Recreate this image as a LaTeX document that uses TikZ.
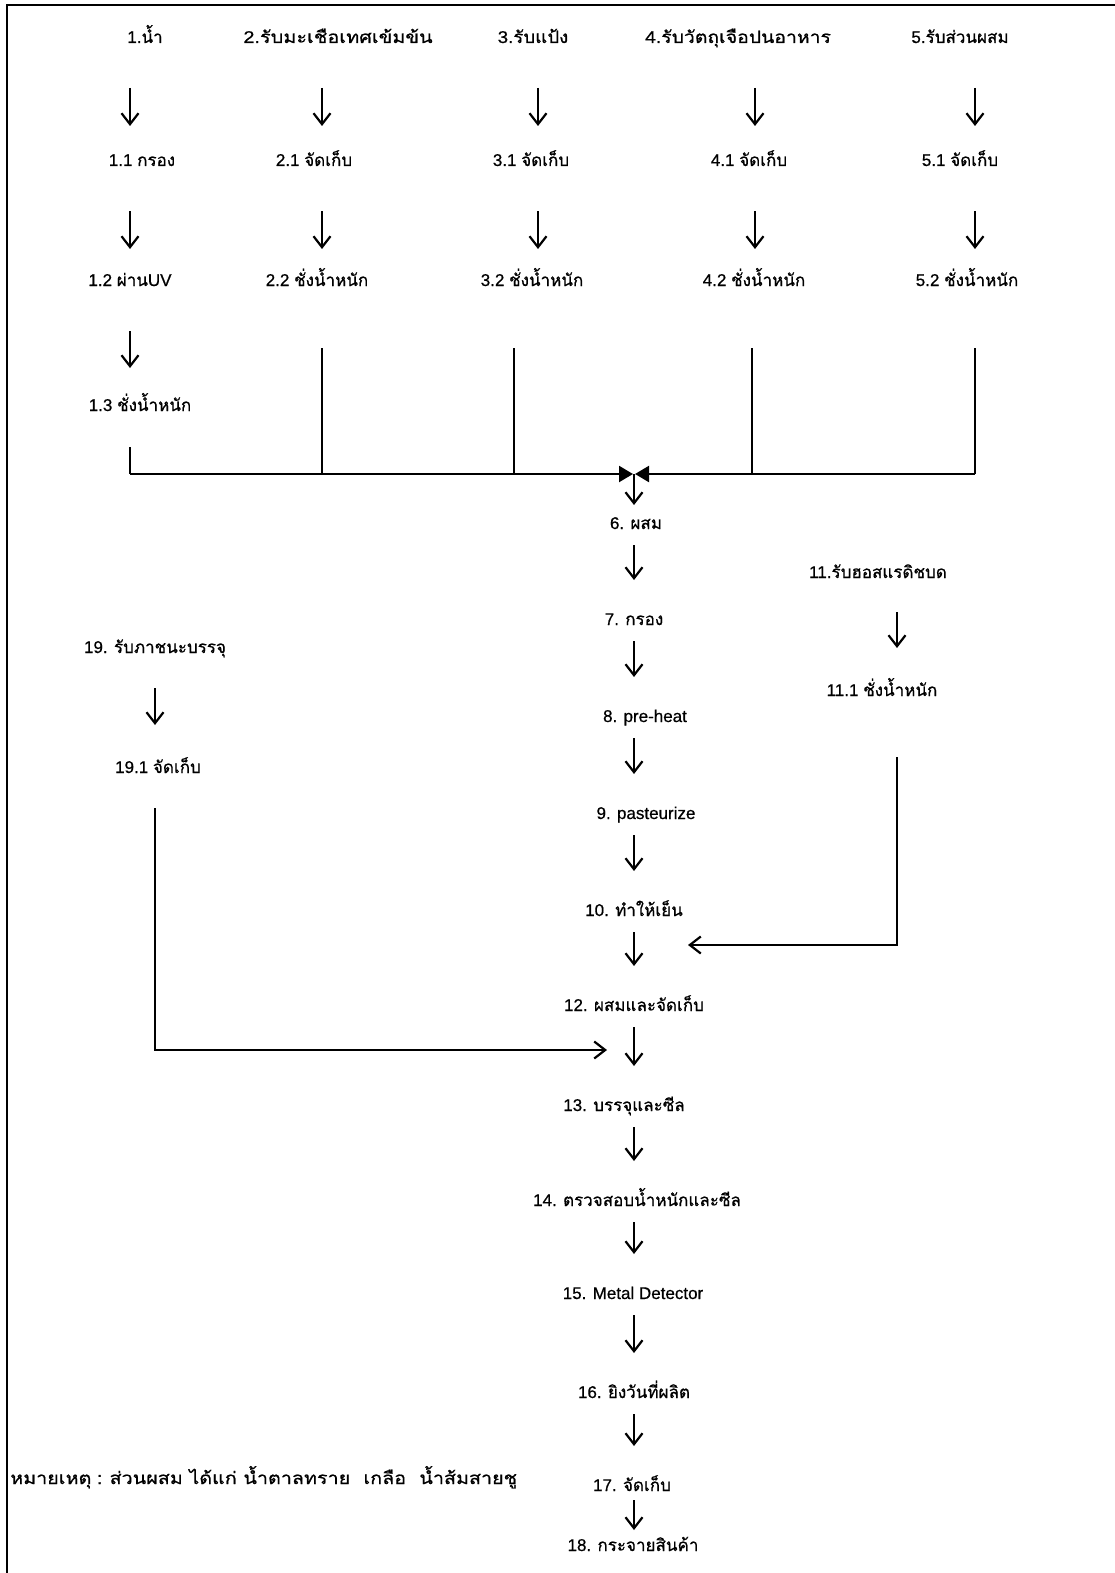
\documentclass[tikz,border=0pt]{standalone}
\usepackage{graphicx}
\usepackage{fontspec}
\setmainfont{Liberation Sans}[FakeBold=0.6]
\newfontfamily\thaifont[Script=Thai,FakeBold=0.7]{Loma}
\newcommand{\T}[1]{{\thaifont #1}}
\newcommand{\wide}[2]{\scalebox{#1}[1]{#2}}
\usetikzlibrary{arrows.meta}
\begin{document}
\begin{tikzpicture}[x=1pt,y=-1pt,
  lbl/.style={inner sep=0pt,anchor=base,font=\fontsize{17}{20}\selectfont},
  arr/.style={line width=2.2pt,-{Straight Barb[length=11pt,width=17pt,line width=2.2pt]}},
  line/.style={line width=2.2pt},
  tri/.style={line width=2.2pt,-{Triangle[length=14pt,width=16pt]}},
  vdown/.style={arr,shorten <=45pt,shorten >=40pt},
  fdown/.style={arr,shorten <=16pt,shorten >=45pt}]
\useasboundingbox (0,0) rectangle (1115,1573);
% frame (top and left edges)
\draw[line width=2.2pt] (7,1573) -- (7,5) -- (1115,5);
% column guides
\coordinate (x1) at (130,0);
\coordinate (x2) at (322,0);
\coordinate (x3) at (538,0);
\coordinate (x4) at (755,0);
\coordinate (x5) at (975,0);
\coordinate (xm) at (634,0);
% header row
\node[lbl] (h1) at (145,43) {1.\T{น้ำ}};
\node[lbl] (h2) at (338,43) {\wide{1.17}{2.\T{รับมะเชือเทศเข้มข้น}}};
\node[lbl] (h3) at (533,43) {\wide{1.1}{3.\T{รับแป้ง}}};
\node[lbl] (h4) at (738,43) {\wide{1.14}{4.\T{รับวัตถุเจือปนอาหาร}}};
\node[lbl] (h5) at (960,43) {5.\T{รับส่วนผสม}};
% row 2
\node[lbl] (a1) at (142,166) {1.1 \T{กรอง}};
\node[lbl] (a2) at (314,166) {2.1 \T{จัดเก็บ}};
\node[lbl] (a3) at (531,166) {3.1 \T{จัดเก็บ}};
\node[lbl] (a4) at (749,166) {4.1 \T{จัดเก็บ}};
\node[lbl] (a5) at (960,166) {5.1 \T{จัดเก็บ}};
% row 3
\node[lbl] (b1) at (130,286) {1.2 \T{ผ่าน}UV};
\node[lbl] (b2) at (317,286) {2.2 \T{ชั่งน้ำหนัก}};
\node[lbl] (b3) at (532,286) {3.2 \T{ชั่งน้ำหนัก}};
\node[lbl] (b4) at (754,286) {4.2 \T{ชั่งน้ำหนัก}};
\node[lbl] (b5) at (967,286) {5.2 \T{ชั่งน้ำหนัก}};
\node[lbl] (c1) at (140,411) {1.3 \T{ชั่งน้ำหนัก}};
% arrows in the columns
\foreach \i in {1,...,5}{
  \draw[vdown] (h\i.base -| x\i) -- (a\i.base -| x\i);
  \draw[vdown,shorten >=37pt] (a\i.base -| x\i) -- (b\i.base -| x\i);
}
\draw[vdown,shorten >=43pt] (b1.base -| x1) -- (c1.base -| x1);
% collector
\coordinate (bus) at (634,474);
\coordinate (busL) at (130,474);
\coordinate (busR) at (975,474);
\draw[line] ([yshift=-36pt]c1.base -| x1) -- (busL);
\draw[line] ([yshift=-62pt]b2.base -| x2) -- (322,474);
\draw[line] ([yshift=-62pt]b3.base -| 514,0) -- (514,474);
\draw[line] ([yshift=-62pt]b4.base -| 752,0) -- (752,474);
\draw[line] ([yshift=-62pt]b5.base -| x5) -- (busR);
\draw[tri] (busL) -- ([xshift=-1pt]bus);
\draw[tri] (busR) -- ([xshift=1pt]bus);
% main flow
\node[lbl] (m6) at (636,529) {6. \T{ผสม}};
\node[lbl] (m7) at (634,625) {7. \T{กรอง}};
\node[lbl] (m8) at (645,722) {8. pre-heat};
\node[lbl] (m9) at (646,819) {9. pasteurize};
\node[lbl] (m10) at (634,916) {10. \T{ทำให้เย็น}};
\node[lbl] (m12) at (634,1011) {12. \T{ผสมและจัดเก็บ}};
\node[lbl] (m13) at (624,1111) {13. \T{บรรจุและซีล}};
\node[lbl] (m14) at (637,1206) {14. \T{ตรวจสอบน้ำหนักและซีล}};
\node[lbl] (m15) at (633,1299) {15. Metal Detector};
\node[lbl] (m16) at (634,1398) {16. \T{ยิงวันที่ผลิต}};
\node[lbl] (m17) at (632,1491) {17. \T{จัดเก็บ}};
\node[lbl] (m18) at (633,1551) {18. \T{กระจายสินค้า}};
\draw[arr] (bus) -- ([yshift=24pt]m6.base -| xm);
\draw[fdown] (m6.base -| xm) -- (m7.base -| xm);
\draw[fdown] (m7.base -| xm) -- (m8.base -| xm);
\draw[fdown] (m8.base -| xm) -- (m9.base -| xm);
\draw[fdown] (m9.base -| xm) -- (m10.base -| xm);
\draw[fdown] (m10.base -| xm) -- (m12.base -| xm);
\draw[fdown] (m12.base -| xm) -- (m13.base -| xm);
\draw[fdown] (m13.base -| xm) -- (m14.base -| xm);
\draw[fdown] (m14.base -| xm) -- (m15.base -| xm);
\draw[fdown] (m15.base -| xm) -- (m16.base -| xm);
\draw[fdown] (m16.base -| xm) -- (m17.base -| xm);
\draw[arr,shorten <=9pt,shorten >=21pt] (m17.base -| xm) -- (m18.base -| xm);
% branch 11
\coordinate (x11) at (897,0);
\node[lbl] (s11) at (878,578) {11.\T{รับฮอสแรดิชบด}};
\node[lbl] (s111) at (882,696) {11.1 \T{ชั่งน้ำหนัก}};
\draw[arr,shorten <=34pt,shorten >=48pt] (s11.base -| x11) -- (s111.base -| x11);
\coordinate (j11) at (688,945);
\draw[arr] ([yshift=-61pt]s111.base -| x11) |- (j11);
% branch 19
\coordinate (x19) at (155,0);
\node[lbl] (s19) at (155,653) {19. \T{รับภาชนะบรรจุ}};
\node[lbl] (s191) at (158,773) {19.1 \T{จัดเก็บ}};
\draw[arr,shorten <=35pt,shorten >=48pt] (s19.base -| x19) -- (s191.base -| x19);
\coordinate (j19) at (607,1050);
\draw[arr] ([yshift=-35pt]s191.base -| x19) |- (j19);
% note
\node[lbl,anchor=base west] (note) at (10,1484) {\wide{1.16}{\T{หมายเหตุ} : \T{ส่วนผสม ได้แก่ น้ำตาลทราย\ \ เกลือ\ \ น้ำส้มสายชู}}};
\end{tikzpicture}
\end{document}
